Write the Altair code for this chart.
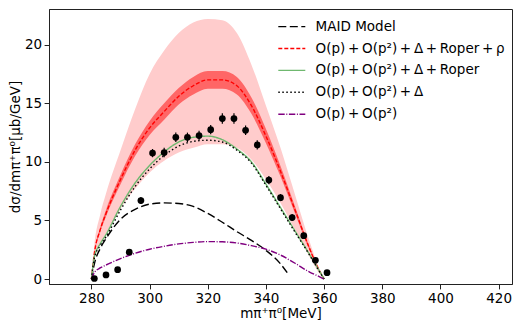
import altair as alt
import pandas as pd

# ---------------- data ----------------
X_GRID = [280, 281, 283, 285, 290, 295, 300, 305, 310, 315, 320, 325, 330, 335, 340, 345, 350, 355, 358, 360]

RHO = [0, 2.2, 4.2, 5.6, 8.5, 11.0, 12.9, 14.3, 15.6, 16.5, 17.0, 17.0, 16.5, 14.8, 12.2, 9.2, 5.9, 2.6, 0.9, 0]
RHO_IN_HI = [0, 2.3, 4.4, 5.9, 8.9, 11.5, 13.5, 15.0, 16.3, 17.25, 17.75, 17.75, 17.25, 15.5, 12.8, 9.65, 6.2, 2.75, 0.95, 0]
RHO_IN_LO = [0, 2.1, 4.0, 5.35, 8.1, 10.5, 12.3, 13.6, 14.9, 15.75, 16.25, 16.25, 15.75, 14.1, 11.6, 8.75, 5.6, 2.45, 0.85, 0]
RHO_OUT_HI = [0, 2.9, 5.5, 7.3, 11.0, 14.5, 17.5, 19.5, 21.0, 21.9, 22.2, 22.1, 21.0, 18.3, 14.8, 11.2, 7.2, 3.2, 1.1, 0]
RHO_OUT_LO = [0, 1.6, 3.0, 3.9, 6.0, 7.7, 9.1, 10.1, 10.8, 11.2, 11.5, 11.5, 11.2, 10.2, 8.5, 6.5, 4.2, 1.9, 0.6, 0]

ROPER = [0, 1.9, 3.0, 3.8, 6.2, 8.2, 9.7, 10.85, 11.7, 12.1, 12.2, 11.9, 11.1, 10.0, 8.1, 6.1, 4.1, 2.1, 0.85, 0]
DELTA = [0, 1.8, 2.85, 3.6, 5.9, 7.9, 9.4, 10.55, 11.35, 11.75, 11.85, 11.7, 11.0, 9.9, 8.0, 6.0, 4.0, 2.05, 0.8, 0]
OP2 = [0, 0.55, 0.95, 1.2, 1.75, 2.2, 2.55, 2.8, 3.0, 3.13, 3.2, 3.18, 3.08, 2.85, 2.55, 2.05, 1.35, 0.6, 0.25, 0]

MAID_X = [280, 281, 283, 285, 290, 295, 300, 305, 310, 315, 320, 325, 330, 335, 340, 345, 348]
MAID_Y = [0, 1.3, 2.6, 3.45, 5.1, 5.95, 6.4, 6.5, 6.45, 6.2, 5.6, 4.85, 4.05, 3.3, 2.45, 1.3, 0.3]

PT_X = [281, 285, 289, 293, 297, 301, 305, 309, 313, 317, 321, 325, 329, 333, 337, 341, 345, 349, 353, 357, 361]
PT_Y = [0.05, 0.35, 0.8, 2.3, 6.7, 10.75, 10.8, 12.1, 12.1, 12.25, 12.75, 13.7, 13.7, 12.7, 11.45, 8.45, 6.95, 5.25, 3.7, 1.6, 0.55]
PT_ERR = [0.1, 0.15, 0.2, 0.25, 0.3, 0.35, 0.4, 0.4, 0.4, 0.4, 0.4, 0.45, 0.45, 0.4, 0.4, 0.35, 0.3, 0.3, 0.25, 0.2, 0.2]

TS = "\u2009+\u2009"
LABELS = [
    "MAID Model",
    "O(p)" + TS + "O(p²)" + TS + "Δ" + TS + "Roper" + TS + "ρ",
    "O(p)" + TS + "O(p²)" + TS + "Δ" + TS + "Roper",
    "O(p)" + TS + "O(p²)" + TS + "Δ",
    "O(p)" + TS + "O(p²)",
]
COLORS = ["#000000", "#ff0000", "#6fb86f", "#000000", "#800080"]
DASHES = [[8, 3.5], [4, 2], [1, 0], [1.5, 2.5], [6.4, 1.6, 1, 1.6]]

X_TICKS = [280, 300, 320, 340, 360, 380, 400, 420]
Y_TICKS = [0, 5, 10, 15, 20]

# ---------------- tables ----------------
band = pd.DataFrame({"x": X_GRID, "out_lo": RHO_OUT_LO, "out_hi": RHO_OUT_HI,
                     "in_lo": RHO_IN_LO, "in_hi": RHO_IN_HI})

rows = []
for xv, yv in zip(MAID_X, MAID_Y):
    rows.append({"x": xv, "y": yv, "series": LABELS[0]})
for lab, ys in zip(LABELS[1:], [RHO, ROPER, DELTA, OP2]):
    for xv, yv in zip(X_GRID, ys):
        rows.append({"x": xv, "y": yv, "series": lab})
lines_df = pd.DataFrame(rows)

pts = pd.DataFrame({"x": PT_X, "y": PT_Y,
                    "lo": [a - b for a, b in zip(PT_Y, PT_ERR)],
                    "hi": [a + b for a, b in zip(PT_Y, PT_ERR)]})

# ---------------- chart ----------------
FONT = "DejaVu Sans"
xscale = alt.Scale(domain=[265.4, 424.6], nice=False, zero=False)
yscale = alt.Scale(domain=[-0.42, 23.05], nice=False, zero=False)
xax = alt.Axis(values=X_TICKS, title="mπ⁺π⁰[MeV]", grid=False, titlePadding=2)
yax = alt.Axis(values=Y_TICKS, title="dσ/dmπ⁺π⁰[μb/GeV]", grid=False, titlePadding=2)

X = alt.X("x:Q", scale=xscale, axis=xax)

outer = alt.Chart(band).mark_area(color="#ffcccc", opacity=1, interpolate="monotone").encode(
    x=X, y=alt.Y("out_lo:Q", scale=yscale, axis=yax), y2="out_hi:Q")
inner = alt.Chart(band).mark_area(color="#ff6666", opacity=1, interpolate="monotone").encode(
    x="x:Q", y="in_lo:Q", y2="in_hi:Q")

leg = alt.Legend(title=None, orient="none", legendX=228.3, legendY=7.6,
                 symbolType="stroke", symbolSize=729, symbolStrokeWidth=1.4,
                 clipHeight=20, rowPadding=1.9, padding=0, labelOffset=9.3,
                 symbolOffset=0, labelFontSize=13.5, labelFont=FONT,
                 labelColor="black", labelLimit=400)

lines = alt.Chart(lines_df).mark_line(strokeWidth=1.4, interpolate="monotone").encode(
    x="x:Q", y="y:Q",
    color=alt.Color("series:N", scale=alt.Scale(domain=LABELS, range=COLORS), legend=leg),
    strokeDash=alt.StrokeDash("series:N", scale=alt.Scale(domain=LABELS, range=DASHES), legend=leg),
)

errs = alt.Chart(pts).mark_rule(color="black", strokeWidth=1.2).encode(
    x="x:Q", y="lo:Q", y2="hi:Q")
dots = alt.Chart(pts).mark_circle(color="black", size=45, opacity=1).encode(
    x="x:Q", y="y:Q")

chart = alt.layer(outer, inner, lines, errs, dots).properties(
    width=463, height=275,
    autosize=alt.AutoSizeParams(type="none"),
    padding={"left": 41, "top": 1, "right": 1, "bottom": 36},
).configure(font=FONT).configure_view(
    stroke="#222222", strokeWidth=1
).configure_axis(
    labelFont=FONT, titleFont=FONT, labelFontSize=13.5, titleFontSize=13.5,
    labelColor="black", titleColor="black", titleFontWeight="normal",
    domainColor="#222222", tickColor="#222222", tickSize=4.9, labelPadding=2.4,
)

chart.save("out.html", embed_options={"renderer": "svg", "actions": False})
